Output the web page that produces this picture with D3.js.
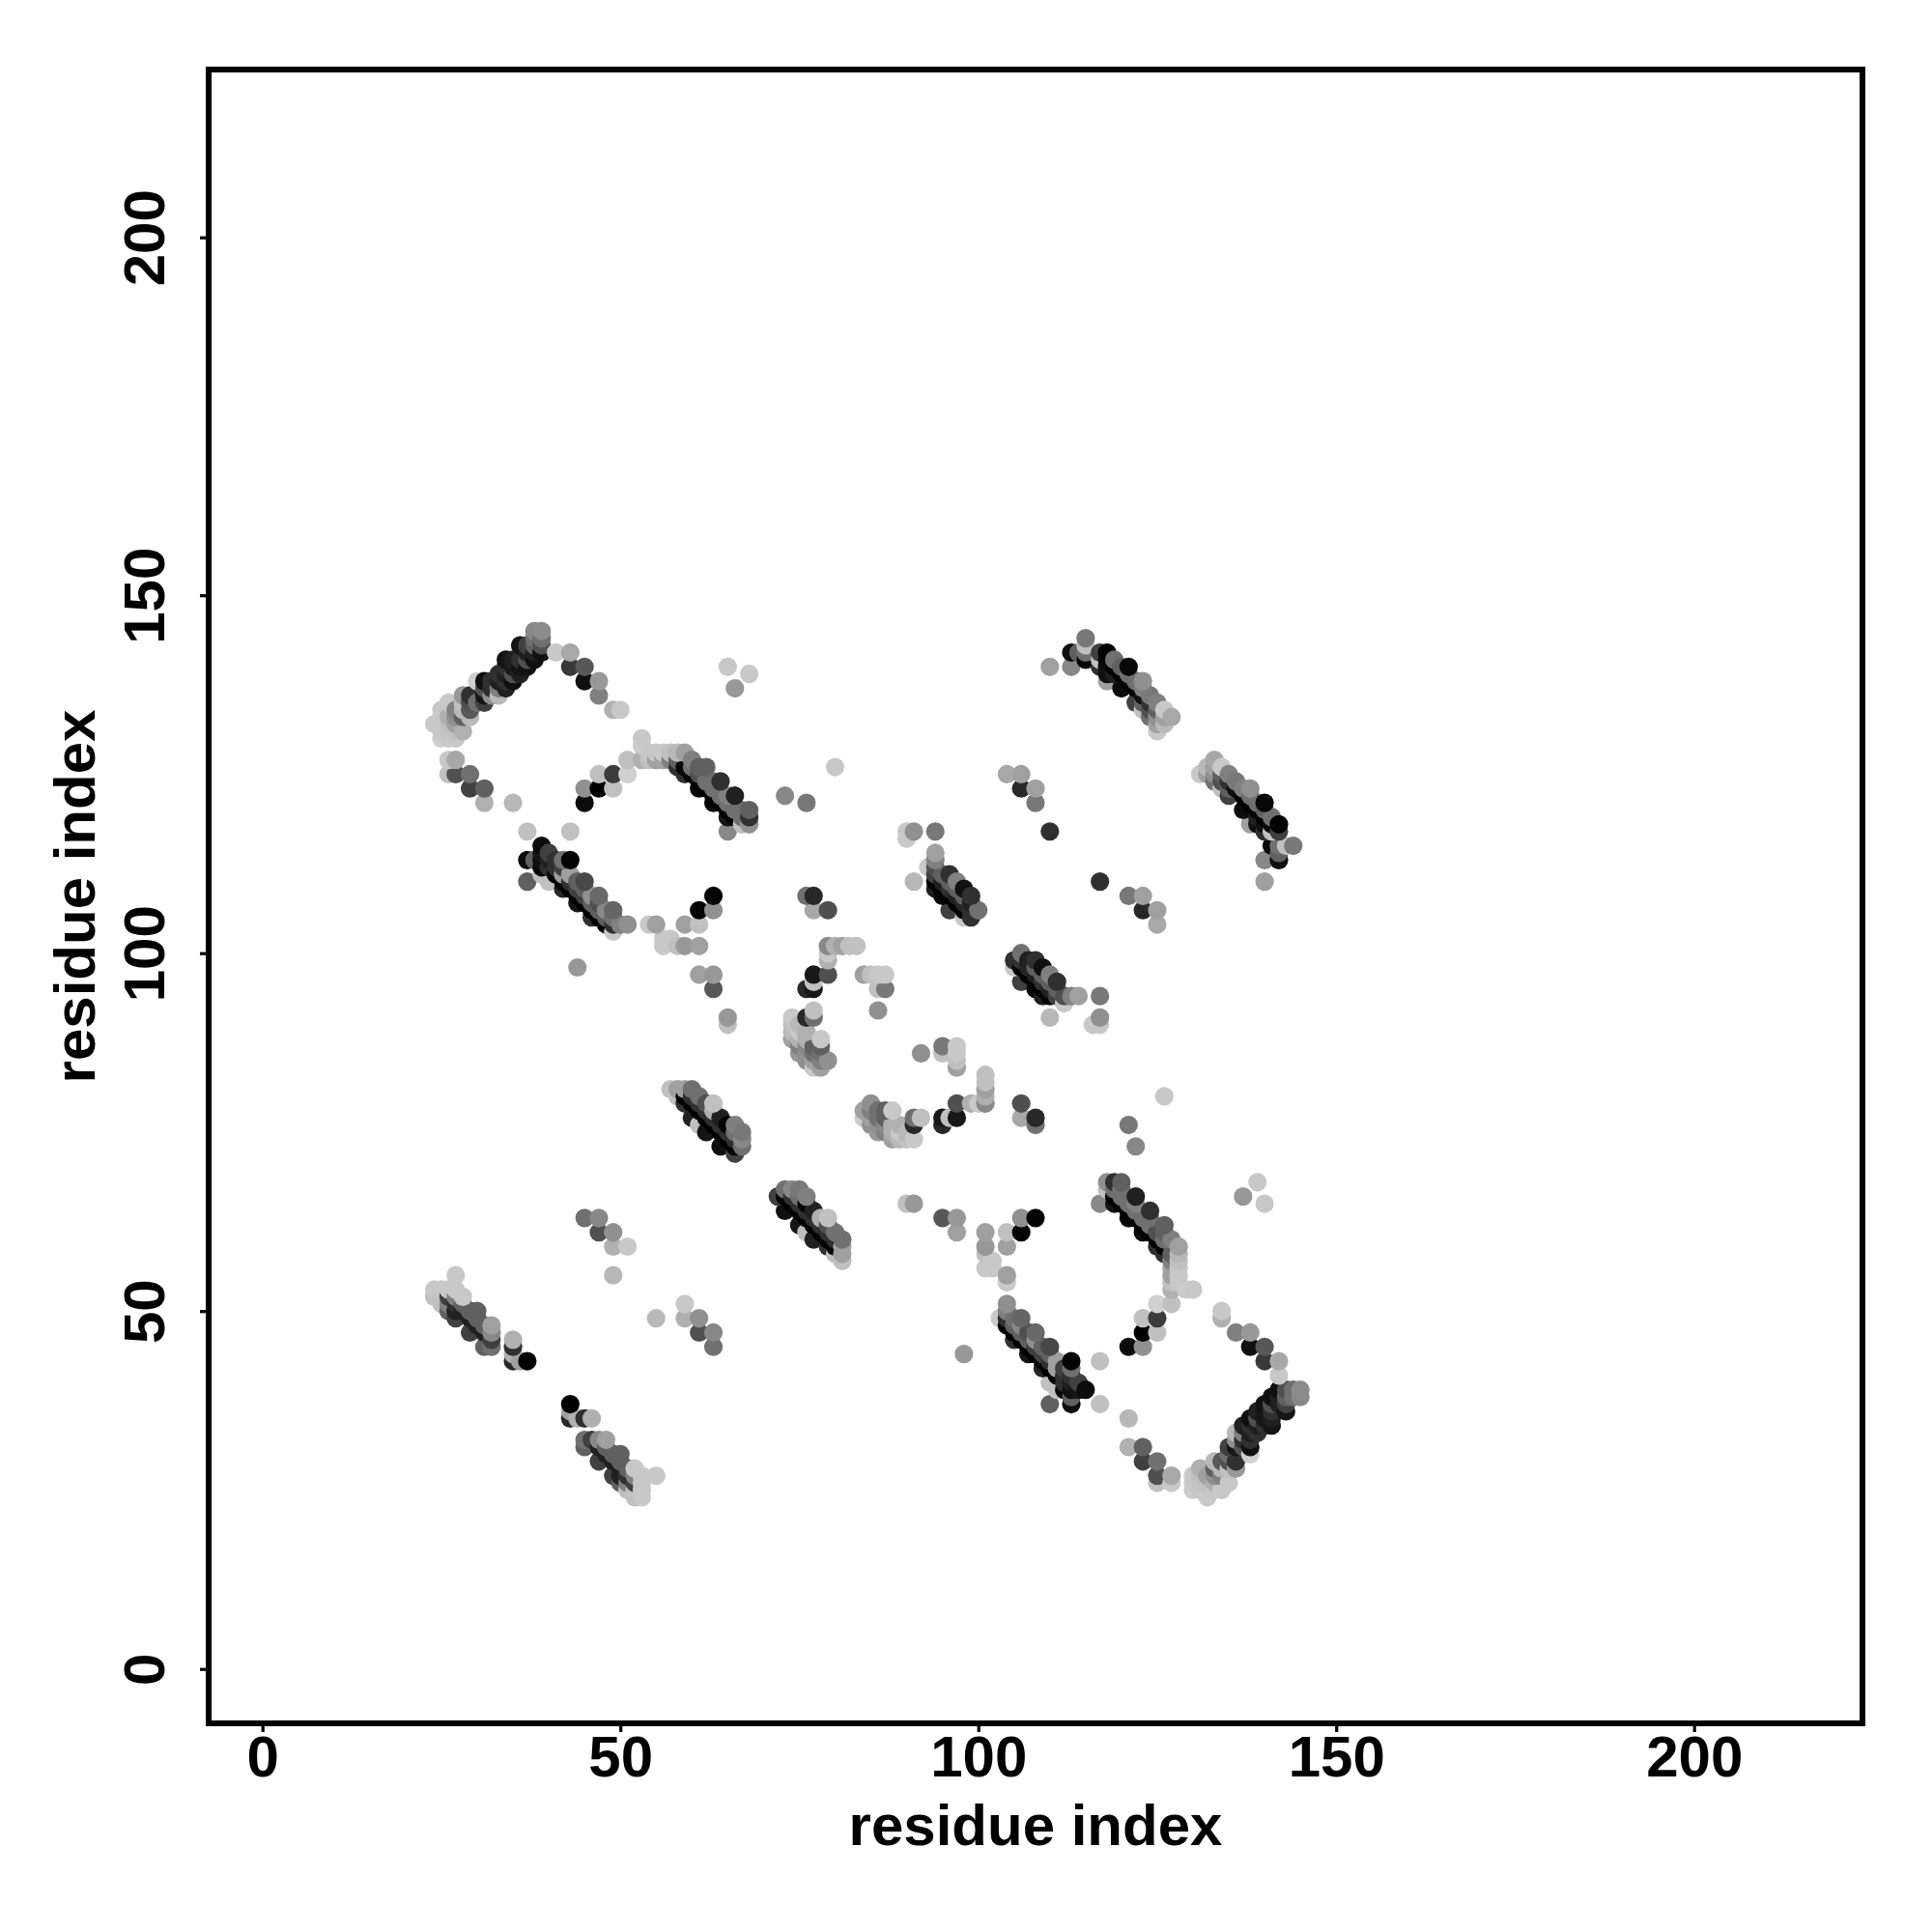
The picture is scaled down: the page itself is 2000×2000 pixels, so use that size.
<!DOCTYPE html>
<html><head><meta charset="utf-8">
<script src="https://cdn.jsdelivr.net/npm/d3@7"></script>
<style>html,body{margin:0;background:#fff}</style></head>
<body><div id="chart"></div>
<script>
// contacts: [residue i, residue j, level]; lower triangle is mirrored from these
const strandA=[[24,132,0xc8],[25,130,0xcc],[25,131,0xc8],[25,133,0xc8],[25,134,0xc8],[26,130,0xc8],[26,131,0xc4],[26,132,0xc0],[26,133,0xb0],[26,135,0xc8],[27,130,0xc8],[27,131,0xc0],[27,132,0xa0],[27,133,0x90],[27,134,0x80],[28,131,0xb0],[28,133,0x60],[28,134,0xb8],[28,135,0xc0],[28,136,0x98],[29,133,0xb8],[29,134,0x58],[29,135,0x50],[29,136,0x30],[30,135,0x70],[30,138,0xd0],[31,135,0x40],[31,136,0x15],[31,137,0x50],[31,138,0x10],[32,136,0x90],[32,137,0x30],[32,138,0x30],[33,136,0xb8],[33,137,0x80],[33,138,0x20],[33,139,0x30],[34,137,0x20],[34,138,0x30],[34,139,0x20],[34,140,0x30],[34,141,0x15],[35,138,0x10],[35,139,0x50],[35,140,0x18],[35,141,0x20],[36,139,0x20],[36,140,0x15],[36,141,0x30],[36,143,0x15],[37,140,0x12],[37,141,0x50],[37,142,0x20],[37,143,0x40],[38,141,0x10],[38,142,0x20],[38,143,0x60],[38,144,0x70],[38,145,0x88],[39,142,0x10],[39,143,0x50],[39,144,0x70],[39,145,0x8c]];
const strandATail=[[41,142,0xc8],[43,142,0xa8],[43,140,0x38],[45,140,0x58],[45,138,0x10],[47,138,0x98],[47,136,0x80],[49,134,0xb0],[50,134,0xc8],[26,127,0xc8],[27,127,0xa8],[26,125,0xc0],[27,125,0x50],[29,125,0x70],[29,123,0x40],[31,123,0x60],[31,121,0xb0],[35,121,0xb8],[37,117,0xc0],[43,117,0xc0]];
const strandB=[[45,121,0x0c],[45,123,0x90],[47,123,0x00],[47,125,0xc0],[49,123,0xc0],[49,125,0x3c],[51,125,0xd0],[51,127,0xc0],[53,127,0xb0],[53,129,0xcc],[53,130,0xc8],[54,127,0xc0],[54,128,0xc8],[55,127,0xa0],[55,128,0xc8],[56,127,0xa0],[56,128,0xc8],[57,127,0x80],[57,128,0xc0],[58,126,0x30],[58,127,0x60],[58,128,0xb8],[59,125,0x30],[59,126,0x05],[59,128,0xa0],[60,125,0x00],[60,126,0x70],[60,127,0x80],[61,123,0x0a],[61,124,0x00],[61,125,0x50],[61,126,0x60],[62,123,0x00],[62,124,0x70],[62,126,0x60],[63,121,0x08],[63,122,0x00],[63,123,0x70],[63,124,0x70],[64,121,0x00],[64,122,0x70],[64,124,0x30],[65,119,0x15],[65,120,0x00],[65,121,0x70],[65,122,0x80],[66,119,0x00],[66,120,0x70],[66,122,0x20],[67,119,0x70],[67,120,0x70],[65,117,0x88],[67,118,0xc0],[68,118,0x90],[68,119,0x30],[68,120,0x60]];
const strandC=[[37,113,0x0c],[38,113,0x60],[37,110,0x60],[39,111,0xc0],[39,112,0x08],[39,113,0x10],[39,114,0x15],[39,115,0x0c],[40,110,0xc0],[40,112,0x30],[40,113,0x20],[40,114,0x40],[41,111,0x00],[41,112,0x30],[41,113,0x30],[42,109,0x25],[42,110,0x00],[42,111,0xa0],[42,112,0x40],[42,113,0x70],[43,109,0x00],[43,110,0x30],[43,111,0xa0],[43,113,0x05],[44,107,0x15],[44,108,0x00],[44,109,0x40],[44,110,0x60],[45,107,0x00],[45,108,0x40],[45,109,0x60],[45,110,0x48],[46,105,0x30],[46,106,0x00],[46,107,0x60],[46,108,0x90],[47,105,0x00],[47,106,0x60],[47,107,0x50],[47,108,0x68],[48,104,0x00],[48,105,0x60],[48,106,0x88],[49,103,0xc8],[49,104,0x30],[49,105,0x70],[49,106,0x65],[50,104,0x80],[51,104,0x90]];
const scatterC=[[54,104,0xc8],[55,104,0xa0],[59,104,0xa0],[61,104,0xc0],[61,106,0x05],[63,106,0x90],[63,108,0x05],[56,102,0xc8],[57,102,0xc8],[56,101,0xc8],[58,101,0xc0],[59,101,0x98],[61,101,0xa0],[44,98,0x98],[61,97,0xa0],[63,97,0x98],[63,95,0x58],[65,91,0x98],[65,90,0xc0],[65,140,0xc8],[68,139,0xc8],[66,137,0x98],[73,122,0x88],[76,121,0x78],[80,126,0xc8]];
const strandD=[[57,81,0xc0],[58,80,0xc0],[58,81,0xa0],[59,79,0x30],[59,80,0x00],[59,81,0xa0],[60,77,0x20],[60,79,0x00],[60,80,0x30],[60,81,0x70],[61,76,0xc0],[61,78,0x00],[61,79,0x30],[61,80,0x70],[62,75,0x15],[62,77,0x00],[62,78,0x30],[62,79,0x50],[63,76,0x00],[63,77,0x30],[63,78,0xb0],[63,79,0xc0],[64,73,0x10],[64,75,0x00],[64,76,0x30],[64,77,0x20],[65,74,0x00],[65,75,0x30],[65,76,0x05],[66,72,0x40],[66,73,0x00],[66,74,0x30],[66,75,0x70],[66,76,0x80],[67,73,0x70],[67,74,0x88],[67,75,0x78]];
const clusterE=[[74,88,0xa0],[74,89,0xb8],[74,90,0xc0],[74,91,0xc8],[75,86,0x98],[75,87,0x80],[75,88,0xb0],[75,89,0xc8],[75,90,0xb8],[76,85,0x90],[76,86,0x90],[76,87,0x88],[76,88,0xb0],[76,89,0xb0],[76,91,0x28],[77,84,0xc8],[77,85,0xa0],[77,86,0x70],[77,87,0x60],[77,91,0x70],[77,92,0xc0],[78,84,0xa0],[78,85,0x80],[78,86,0x70],[78,87,0x60],[78,88,0xc8],[79,85,0x90]];
const scatterE=[[79,97,0x50],[79,99,0xb0],[79,100,0xc8],[79,101,0x88],[80,101,0xb0],[81,101,0xa0],[82,101,0xc0],[83,101,0xc0],[77,95,0x18],[77,96,0xc0],[77,97,0x18],[76,95,0x28],[84,97,0xa0],[85,97,0xc0],[86,97,0xc8],[87,97,0xc8],[86,95,0xc0],[87,95,0x78],[86,92,0x90],[76,108,0x70],[77,108,0x28],[77,106,0xa8],[79,106,0x50],[90,116,0xc8],[90,117,0xc8],[91,117,0x90],[94,117,0x78],[91,110,0xb8],[93,112,0xc8],[110,117,0x30],[108,121,0x78],[108,123,0xa0],[106,123,0x28],[106,125,0xa0],[104,125,0xa8]];
const strandF=[[94,109,0x20],[94,110,0x05],[94,111,0x40],[94,112,0x50],[94,113,0x80],[94,114,0xa0],[95,108,0x08],[95,109,0x00],[95,110,0x20],[95,111,0x60],[96,106,0x40],[96,108,0x00],[96,109,0x30],[96,110,0x60],[96,111,0x30],[97,107,0x00],[97,108,0x20],[97,109,0x60],[97,110,0x80],[98,105,0xc8],[98,106,0x00],[98,107,0x25],[98,108,0x60],[98,109,0x10],[99,105,0x30],[99,106,0x30],[99,107,0x20],[99,108,0x30],[100,106,0x70]];
const strandG=[[110,140,0xa0],[113,140,0x88],[113,142,0x10],[114,142,0x60],[115,141,0x08],[115,142,0x70],[115,143,0xc0],[115,144,0x78],[117,140,0x30],[117,141,0xc0],[117,142,0x40],[118,138,0xa0],[118,139,0x10],[118,140,0x10],[118,141,0x0a],[118,142,0x02],[119,139,0x20],[119,140,0x00],[119,141,0x70],[120,137,0x0a],[120,139,0x00],[120,140,0x60],[121,138,0x00],[121,139,0x70],[121,140,0x08],[122,135,0x40],[122,137,0x00],[122,138,0x70],[123,134,0xc0],[123,135,0x60],[123,136,0x10],[123,137,0x80],[123,138,0x90],[124,133,0x70],[124,134,0x50],[124,135,0x30],[124,136,0x78],[125,131,0xc8],[125,132,0xa0],[125,133,0x90],[125,134,0x60],[125,135,0x80],[126,132,0xb8],[126,133,0xa0],[126,134,0xc8],[127,133,0xa8]];
const strandH=[[24,52,0xc0],[24,53,0xc8],[25,51,0xc0],[25,52,0xc0],[25,53,0xc8],[26,50,0x60],[26,51,0x80],[26,52,0x40],[26,53,0xc8],[27,49,0x40],[27,50,0x20],[27,51,0x30],[27,52,0x80],[27,53,0xc8],[27,55,0xc8],[28,50,0x20],[28,51,0x60],[28,52,0xc8],[29,47,0x40],[29,49,0x20],[29,50,0x60],[30,48,0x20],[30,49,0x60],[30,50,0x60],[31,45,0x60],[31,47,0x20],[31,48,0x60],[32,45,0x70],[32,46,0x40],[32,47,0x88],[32,48,0xa0],[35,43,0x28],[35,44,0xb0],[35,45,0x30],[35,46,0xb0],[36,43,0xa0],[37,43,0x00],[45,63,0x70],[47,63,0x88],[47,61,0x50],[49,61,0x90],[49,59,0xb0],[51,59,0xc8],[49,55,0xb8]];
const tickValues=[0,50,100,150,200];
const axisTitle="residue index";

const contacts=[strandA,strandATail,strandB,strandC,scatterC,strandD,clusterE,scatterE,strandF,strandG,strandH].flat();
const points=contacts.flatMap(([i,j,level])=>[{x:i,y:j,level},{x:j,y:i,level}])
  .sort((a,b)=>d3.ascending(a.x+a.y,b.x+b.y)||d3.ascending(a.x,b.x));

const size=2000;
const x=d3.scaleLinear().domain([0,200]).range([271.7,1753.7]);
const y=d3.scaleLinear().domain([0,200]).range([1727.7,245.7]);
const shade=d3.scaleLinear().domain([0,205]).range(["#000000","#cdcdcd"]);
const frame={left:216,right:1928,top:72,bottom:1784};
const font='"Liberation Sans",Arial,sans-serif';

const svg=d3.select("#chart").append("svg").attr("width",size).attr("height",size)
  .style("display","block").style("background","#fff");

svg.append("g").selectAll("circle").data(points).join("circle")
  .attr("cx",d=>x(d.x)).attr("cy",d=>y(d.y)).attr("r",9.6).attr("fill",d=>shade(d.level));

const gx=svg.append("g").attr("transform",`translate(0,${frame.bottom})`)
  .call(d3.axisBottom(x).tickValues(tickValues).tickSize(9).tickPadding(0).tickFormat(d3.format("d")));
const gy=svg.append("g").attr("transform",`translate(${frame.left},0)`)
  .call(d3.axisLeft(y).tickValues(tickValues).tickSize(9).tickPadding(0).tickFormat(d3.format("d")));
[gx,gy].forEach(g=>{
  g.select(".domain").remove();
  g.selectAll("line").attr("stroke","#000").attr("stroke-width",3.2);
  g.selectAll("text").attr("font-family",font).attr("font-weight",700).attr("font-size",60).attr("fill","#000");
});
gx.selectAll("text").attr("dy",null).attr("y",55).attr("text-anchor","middle");
gy.selectAll("text").attr("dy",null).attr("x",null).attr("y",null)
  .attr("text-anchor","middle").attr("transform","translate(-46,0) rotate(-90)");

svg.append("rect").attr("x",frame.left).attr("y",frame.top)
  .attr("width",frame.right-frame.left).attr("height",frame.bottom-frame.top)
  .attr("fill","none").attr("stroke","#000").attr("stroke-width",6);

svg.append("text").attr("x",(frame.left+frame.right)/2).attr("y",1910)
  .attr("text-anchor","middle").attr("font-family",font).attr("font-weight",700).attr("font-size",60).text(axisTitle);
svg.append("text").attr("transform",`translate(98,${(frame.top+frame.bottom)/2}) rotate(-90)`)
  .attr("text-anchor","middle").attr("font-family",font).attr("font-weight",700).attr("font-size",60).text(axisTitle);
</script></body></html>
